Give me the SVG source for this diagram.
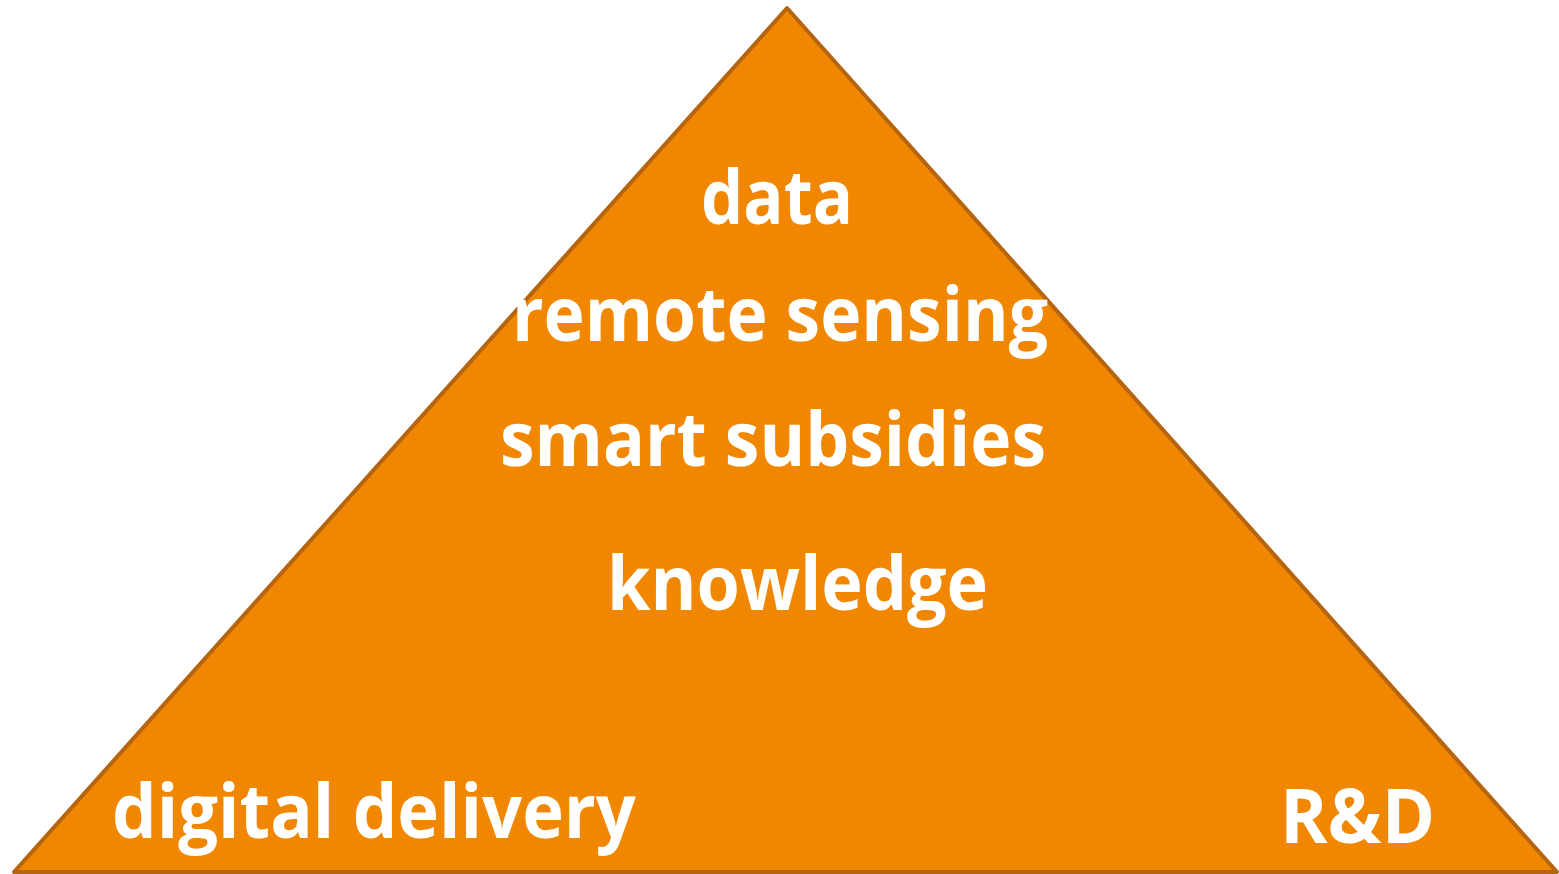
<svg xmlns="http://www.w3.org/2000/svg" width="1559" height="874" viewBox="0 0 1559 874">
<style>
.t{font-family:"Open Sans","Liberation Sans",sans-serif;font-weight:bold;font-size:75px;fill:#ffffff}
</style>
<rect width="1559" height="874" fill="#ffffff"/>
<g id="pyramid">
<polygon points="787,8 14,872 1557,872" fill="#f18700" stroke="#b5640f" stroke-width="4" stroke-linejoin="round"/>
</g>
<g id="labels">
<text class="t" x="701" y="224" textLength="152" lengthAdjust="spacingAndGlyphs">data</text>
<text class="t" x="512" y="341" textLength="536" lengthAdjust="spacingAndGlyphs">remote sensing</text>
<text class="t" x="500" y="466" textLength="546" lengthAdjust="spacingAndGlyphs">smart subsidies</text>
<text class="t" x="607" y="610" textLength="381" lengthAdjust="spacingAndGlyphs">knowledge</text>
<text class="t" x="112" y="838" textLength="524" lengthAdjust="spacingAndGlyphs">digital delivery</text>
<text class="t" x="1280" y="843" textLength="155" lengthAdjust="spacingAndGlyphs">R&amp;D</text>
</g>
</svg>
